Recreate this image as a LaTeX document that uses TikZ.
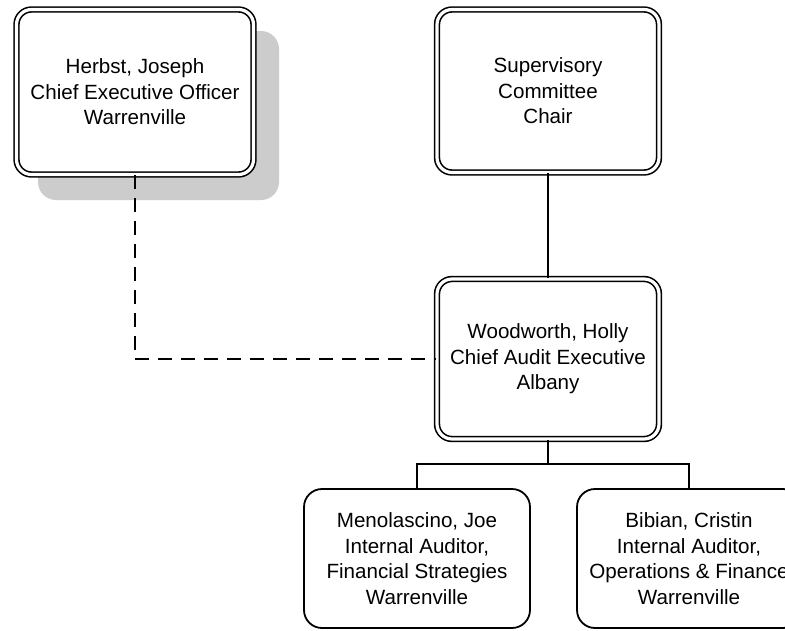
\documentclass[tikz,border=0pt]{standalone}
\usepackage{fontspec}
\setmainfont{Liberation Sans}
\definecolor{shadowgray}{RGB}{204,204,204}
\begin{document}
\begin{tikzpicture}[x=1pt,y=-1pt,
  txt/.style={align=center, font=\fontsize{20.6}{25.5}\selectfont, inner sep=0pt},
  dbox/.style={txt, draw, line width=1.6pt, double=white, double distance=3.2pt,
    rounded corners=15pt, fill=white},
  sbox/.style={txt, draw, line width=1.8pt, rounded corners=18pt, fill=white},
  conn/.style={draw, line width=2pt},
  dconn/.style={draw, line width=2pt, dash pattern=on 14pt off 9pt}]
\clip (0,0) rectangle (785,630);
\fill[white] (0,0) rectangle (785,630);
% shadow
\fill[shadowgray, rounded corners=18pt] (38,31) rectangle (279,200);
% nodes
\node[dbox, minimum width=237pt, minimum height=165pt] (h) at (135,92)
  {Herbst, Joseph\\Chief Executive Officer\\Warrenville};
\node[dbox, minimum width=222pt, minimum height=163pt] (s) at (548,91)
  {Supervisory\\Committee\\Chair};
\node[dbox, minimum width=222pt, minimum height=160pt] (w) at (548,359)
  {Woodworth, Holly\\Chief Audit Executive\\Albany};
\node[sbox, minimum width=226pt, minimum height=139pt] (b1) at (417,558.5)
  {Menolascino, Joe\\Internal Auditor,\\Financial Strategies\\Warrenville};
\node[sbox, minimum width=224pt, minimum height=139pt] (b2) at (689,558.5)
  {Bibian, Cristin\\Internal Auditor,\\Operations \& Finance\\Warrenville};
\coordinate (j) at (548,464);
% connectors
\path[conn] (s.south) -- (w.north);
\path[conn] (w.south) -- (j);
\path[conn] (b1.north) |- (j) -| (b2.north);
\path[dconn] (h.south) |- (w.west);
\end{tikzpicture}
\end{document}
